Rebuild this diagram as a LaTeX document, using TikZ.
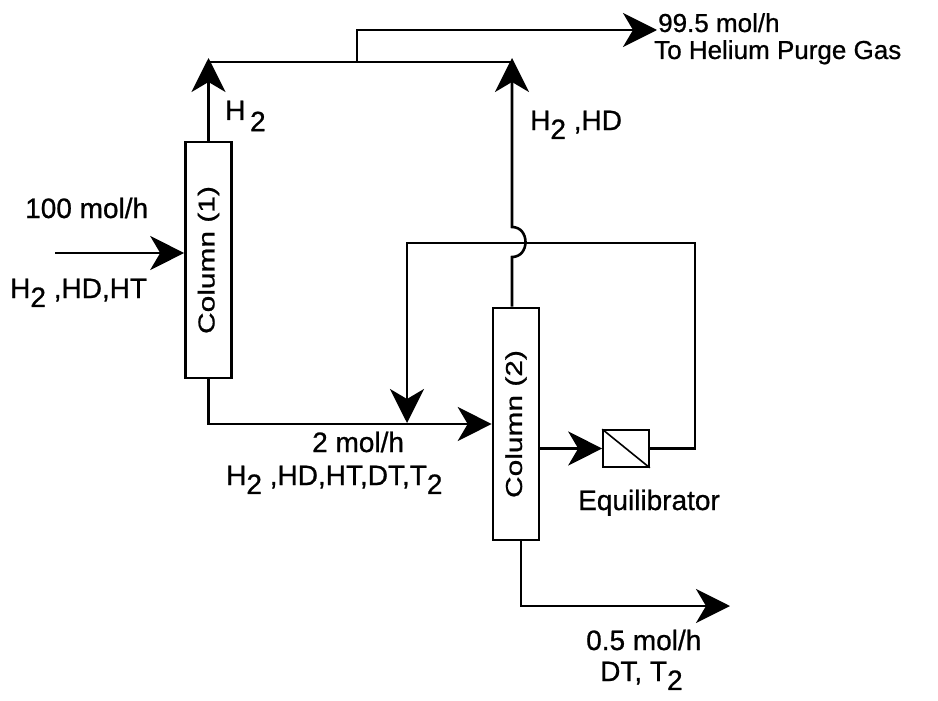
\documentclass[tikz,border=0pt]{standalone}
\usepackage{fontspec}
\setmainfont{Liberation Sans}[FakeBold=0.8]
\usetikzlibrary{positioning,arrows.meta}
\newcommand{\lowtwo}{\raisebox{-0.32em}{2}}

\begin{document}
\begin{tikzpicture}[x=1pt,y=-1pt,
  column/.style={draw, line width=2.6pt, minimum width=46pt, inner sep=0pt, font=\fontsize{23}{28}\selectfont},
  pipe/.style={line width=2.6pt},
  flow/.style={line width=2.6pt, -{Stealth[length=34pt,width=34pt,inset=10pt]}},
  lbl/.style={font=\fontsize{28}{32}\selectfont, inner sep=0pt, anchor=base west}]
\useasboundingbox (0,0) rectangle (938,701);
% columns and equilibrator
\node[column, minimum height=236pt] (col1) at (208.5,260) {\rotatebox{90}{\scalebox{1.3}[1]{Column (1)}}};
\node[column, minimum height=232pt] (col2) at (516,424) {\rotatebox{90}{\scalebox{1.3}[1]{Column (2)}}};
\node[draw, line width=1.6pt, minimum width=46pt, minimum height=37pt, inner sep=0pt] (equil) at (626,448.5) {};
\draw[line width=1.6pt] (equil.north west) -- (equil.south east);
% stream corners
\coordinate (feed) at (55,253);
\coordinate (up1) at (208.5,58);
\coordinate (up2) at (512,58);
\coordinate (tee) at (357,62);
\coordinate (purge) at (657,30);
\coordinate (loopR) at (695,243);
\coordinate (drop) at (407,423);
\coordinate (prod) at (730,606);
% streams
\draw[flow] (feed) -- (col1.west|-feed);
\draw[flow] (col1.north) -- (up1);
\draw[pipe] (up1|-tee) -- (up2|-tee);
\draw[flow] (tee) |- (purge);
\draw[flow] ([xshift=-4pt]col2.north) -- (512,257) .. controls (530,257) and (530,227) .. (512,227) -- (up2);
\draw[flow] (col1.south) |- (col2.west);
\draw[flow] (col2.east|-equil) -- (equil.west);
\draw[flow] (equil.east) -| (loopR) -| (drop);
\draw[flow] ([xshift=5pt]col2.south) |- (prod);
% labels
\node[lbl] (feedrate) at (25,218) {100 mol/h};
\node[lbl] (feedmix) at (10,298) {H\lowtwo\ ,HD,HT};
\node[lbl] (toph2) at (225,120) {H\,\raisebox{-0.4em}{2}};
\node[lbl] (tophd) at (530,130) {H\lowtwo\ ,HD};
\node[lbl, font=\fontsize{26}{30}\selectfont] (purgerate) at (658,32) {99.5 mol/h};
\node[lbl, font=\fontsize{26}{30}\selectfont] (purgedest) at (654,59) {To Helium Purge Gas};
\node[lbl] (midrate) at (312,452) {2 mol/h};
\node[lbl] (midmix) at (226,485) {H\lowtwo\ ,HD,HT,DT,T\lowtwo};
\node[lbl] (eqlabel) at (578,510) {Equilibrator};
\node[lbl] (botrate) at (586,650) {0.5 mol/h};
\node[lbl] (botmix) at (600,681) {DT, T\lowtwo};
\end{tikzpicture}
\end{document}
